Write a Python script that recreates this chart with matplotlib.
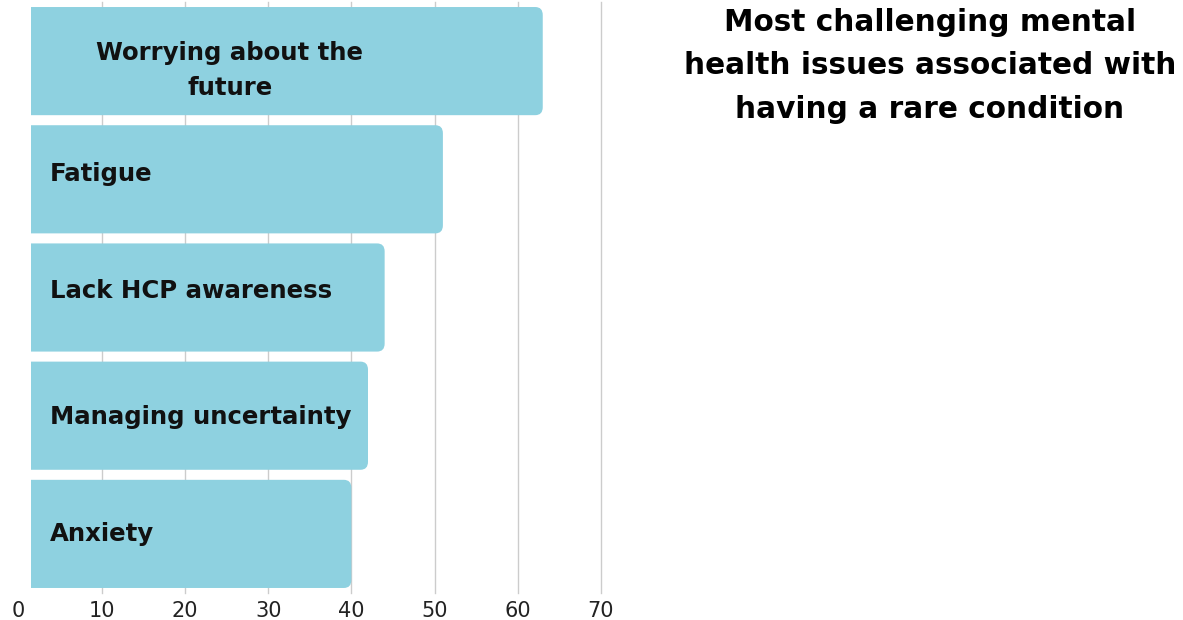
import numpy as np
import matplotlib.pyplot as plt
from matplotlib.patches import FancyBboxPatch, Rectangle

# data (top to bottom)
labels = ['Worrying about the\nfuture', 'Fatigue', 'Lack HCP awareness',
          'Managing uncertainty', 'Anxiety']
values = [63, 51, 44, 42, 40]
ticks = [0, 10, 20, 30, 40, 50, 60, 70]
title = 'Most challenging mental\nhealth issues associated with\nhaving a rare condition'

# label placement inside the bars (style only)
label_dy = [0.076, 0.017, 0.0, 0.068, 0.06]

bar_color = '#8ed1e0'
plt.rcParams['font.family'] = ['DejaVu Sans']

fig = plt.figure(figsize=(11.83, 6.2), dpi=100)
W, H = 1183, 620
ax = fig.add_axes([18.5 / W, 1 - 593 / H, (601 - 18.5) / W, (593 - 2) / H])

n = len(values)
ax.set_xlim(0, 70)
ax.set_ylim(n - 0.5, -0.5)

clip = Rectangle((1.5, -1), 80, n + 2, transform=ax.transData, visible=False)
ax.add_patch(clip)

h = 0.915
for i, (lab, v) in enumerate(zip(labels, values)):
    box = FancyBboxPatch((0, i - h / 2), v, h,
                         boxstyle='round,pad=0,rounding_size=0.9',
                         mutation_aspect=0.075,
                         fc=bar_color, ec='none', zorder=2)
    ax.add_patch(box)
    box.set_clip_path(clip)
    if '\n' in lab:
        ax.text(25.4, i + label_dy[i], lab, ha='center', va='center',
                fontsize=17.6, fontweight='bold', color='#111111',
                linespacing=1.58, zorder=3)
    else:
        ax.text(3.8, i + label_dy[i], lab, ha='left', va='baseline',
                fontsize=17.6, fontweight='bold', color='#111111', zorder=3)

ax.set_xticks(ticks)
ax.set_yticks([])
ax.tick_params(axis='x', length=0, labelsize=15, labelcolor='#222222', pad=6)
ax.grid(axis='x', color='#cccccc', lw=1, zorder=0)
gl = ax.get_xgridlines()
gl[0].set_visible(False)
for g in gl:
    g.set_clip_on(False)
ax.set_axisbelow(True)
for s in ax.spines.values():
    s.set_visible(False)

fig.text(930 / W, 1 - 66 / H, title, ha='center', va='center', fontsize=21.3,
         fontweight='bold', color='#000000', linespacing=1.62)

fig.savefig('out.png', dpi=100)
